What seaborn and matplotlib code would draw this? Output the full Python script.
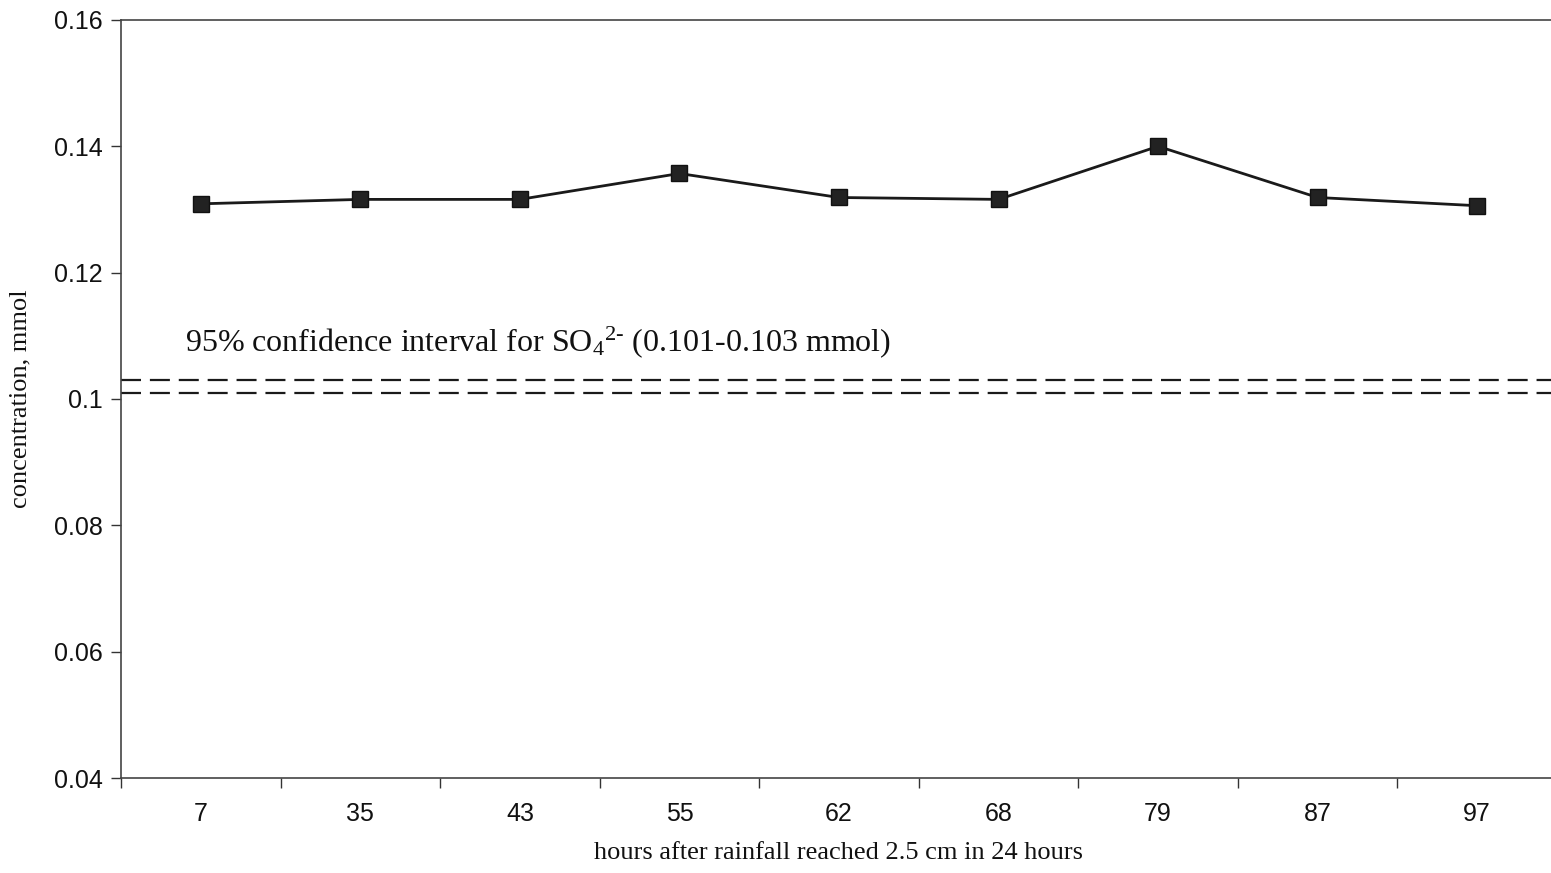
import matplotlib
matplotlib.use("Agg")
import matplotlib.pyplot as plt
import seaborn as sns
import pandas as pd
from matplotlib.ticker import FixedLocator

# Sulfate concentration after a heavy rainfall event
hours = ["7", "35", "43", "55", "62", "68", "79", "87", "97"]
concentration = [0.1309, 0.1316, 0.1316, 0.1357, 0.1319, 0.1316, 0.1400, 0.1319, 0.1306]
ci_low, ci_high = 0.101, 0.103
y_ticks = [0.04, 0.06, 0.08, 0.10, 0.12, 0.14, 0.16]
y_tick_labels = ["0.04", "0.06", "0.08", "0.1", "0.12", "0.14", "0.16"]

sns.set_theme(style="white")
plt.rcParams["font.family"] = ["Liberation Sans", "DejaVu Sans"]
plt.rcParams["mathtext.fontset"] = "custom"
plt.rcParams["mathtext.rm"] = "Liberation Serif"
plt.rcParams["mathtext.it"] = "Liberation Serif:italic"

df = pd.DataFrame({"hours": hours, "conc": concentration})

fig = plt.figure(figsize=(15.51, 8.73), dpi=100)
ax = fig.add_axes([121 / 1551, 95 / 873, (1557 - 121) / 1551, (778 - 20) / 873])

sns.lineplot(data=df, x="hours", y="conc", ax=ax, color="#1a1a1a", linewidth=2.0,
             marker="s", markersize=11, markerfacecolor="#222222",
             markeredgecolor="#111111", markeredgewidth=1.0, sort=False)

for v in (ci_low, ci_high):
    ax.axhline(v, color="#1a1a1a", linewidth=1.6, dashes=(9, 4))

ax.text(-0.1, 0.1062, r"95% confidence interval for SO$_4$$^{2\text{-}}$ (0.101-0.103 mmol)",
        fontsize=23, family="Liberation Serif", color="#111111", va="bottom", ha="left")

ax.set_xlim(-0.5, 8.5)
ax.set_ylim(0.04, 0.16)
ax.set_yticks(y_ticks)
ax.set_yticklabels(y_tick_labels)
ax.xaxis.set_minor_locator(FixedLocator([i - 0.5 for i in range(10)]))

ax.tick_params(axis="x", which="major", length=0, pad=17, labelsize=18, labelcolor="#111111")
ax.tick_params(axis="x", which="minor", length=7, width=1.0, direction="out", bottom=True, color="#333333")
ax.tick_params(axis="y", which="major", length=7, width=1.0, direction="out", left=True,
               labelsize=18, labelcolor="#111111", pad=6, color="#333333")

for side in ("left", "bottom", "top", "right"):
    ax.spines[side].set_color("#444444")
    ax.spines[side].set_linewidth(1.2)

ax.set_xlabel("hours after rainfall reached 2.5 cm in 24 hours", family="Liberation Serif",
              fontsize=19, color="#111111", labelpad=12)
ax.set_ylabel("concentration, mmol", family="Liberation Serif", fontsize=19,
              color="#111111", labelpad=16)

fig.savefig("out.png", dpi=100, facecolor="white")
